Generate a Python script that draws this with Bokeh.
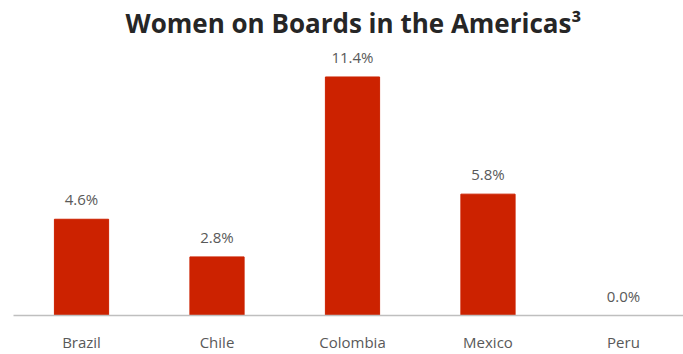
from bokeh.plotting import figure
from bokeh.models import ColumnDataSource, Range1d, FixedTicker, LabelSet
from bokeh.core.properties import value
from bokeh.embed import file_html
from bokeh.resources import INLINE

categories = ["Brazil", "Chile", "Colombia", "Mexico", "Peru"]
values = [4.6, 2.8, 11.4, 5.8, 0.0]
labels = ["4.6%", "2.8%", "11.4%", "5.8%", "0.0%"]

xs = list(range(len(categories)))
src = ColumnDataSource(dict(x=xs, top=values, lab=labels))

p = figure(width=683, height=354, output_backend="svg", toolbar_location=None,
           x_range=Range1d(-0.502, 4.443), y_range=Range1d(0, 13.0),
           min_border_left=13, min_border_right=0, min_border_bottom=0, min_border_top=0)
p.title.text = "Women on Boards in the Americas³"
p.title.align = "left"
p.title.offset = 112
p.title.text_font = "Open Sans"
p.title.text_font_size = "26px"
p.title.text_font_style = "bold"
p.title.text_color = "#262626"
p.title.standoff = 5

p.vbar(x="x", top="top", bottom=0, width=0.4, color="#CC2200", source=src)

p.add_layout(LabelSet(x="x", y="top", text="lab", source=src, text_align="center",
                      text_baseline="bottom", y_offset=10, text_font=value("Open Sans"),
                      text_font_size=value("15px"), text_color="#595959"))

p.yaxis.visible = False
p.xgrid.visible = False
p.ygrid.visible = False
p.outline_line_color = None
p.xaxis.ticker = FixedTicker(ticks=xs)
p.xaxis.major_label_overrides = {i: c for i, c in zip(xs, categories)}
p.xaxis.major_tick_line_color = None
p.xaxis.minor_tick_line_color = None
p.xaxis.axis_line_color = "#BFBFBF"
p.xaxis.axis_line_width = 1.5
p.xaxis.major_label_standoff = 10
p.xaxis.major_label_text_font = "Open Sans"
p.xaxis.major_label_text_font_size = "15px"
p.xaxis.major_label_text_color = "#595959"

open("out.html", "w").write(file_html(p, INLINE))
